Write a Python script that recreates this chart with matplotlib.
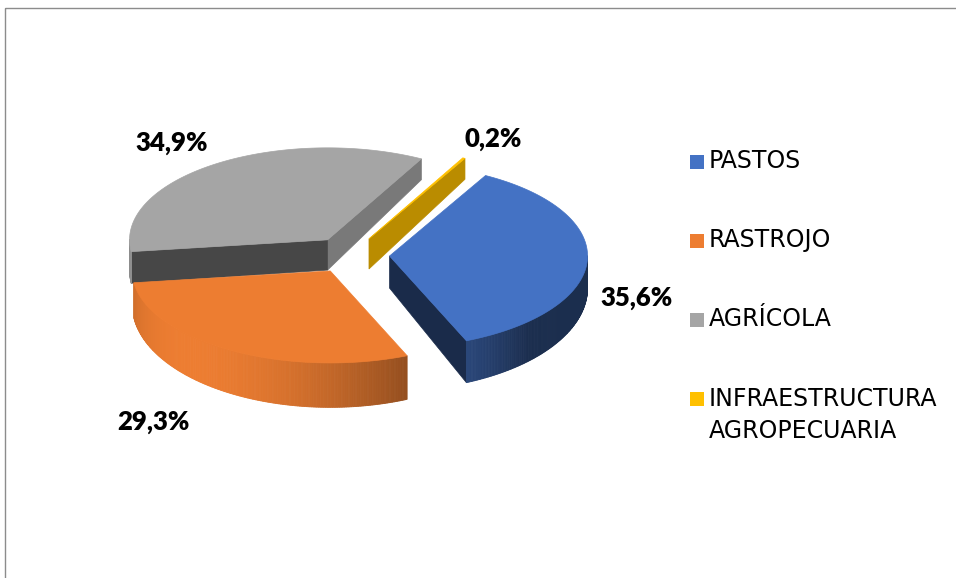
import numpy as np
import matplotlib
matplotlib.use("Agg")
import matplotlib.pyplot as plt
from matplotlib.patches import Polygon, Rectangle
from matplotlib.colors import to_rgb

# data
categories = ["PASTOS", "RASTROJO", "AGRÍCOLA", "INFRAESTRUCTURA\nAGROPECUARIA"]
values = [35.6, 29.3, 34.9, 0.2]
slice_colors = ["#4472c4", "#ed7d31", "#a5a5a5", "#ffc000"]

# where the percentage labels sit (pixels)
label_pos = [(637, 298), (153, 422), (172, 143), (493, 139)]

# pie layout, all in pixels of the 956x578 picture
W, H = 956, 578
CX, CY = 350, 255      # centre of the un-exploded pie
RX, RY = 198, 92       # half axes of the tilted top ellipse
EXPLODE = 0.2          # offset as fraction of radius
START = 61             # degrees, first slice runs clockwise from here


def depth_at(y):
    # thicker towards the viewer, a poor man's perspective
    return 32 + 0.115 * (y - CY)


def pt(c, t):
    return np.array([c[0] + RX * np.cos(t), c[1] - RY * np.sin(t)])


def shade(col, f):
    r, g, b = to_rgb(col)
    return (r * f, g * f, b * f)


fig = plt.figure(figsize=(W / 100, H / 100), dpi=100)
ax = fig.add_axes([0, 0, 1, 1])
ax.set_xlim(0, W)
ax.set_ylim(H, 0)
ax.axis("off")

# frame of the chart area
ax.add_patch(Rectangle((5, 8), W, H, fill=False, ec="#8c8c8c", lw=1.0))

# angles of each slice (clockwise from START)
fracs = np.array(values) / sum(values)
ends = START - 360 * np.cumsum(fracs)
starts = np.concatenate([[START], ends[:-1]])

slices = []
for i, (a0, a1) in enumerate(zip(starts, ends)):
    t1, t2 = np.radians(a1), np.radians(a0)   # counter-clockwise t1 -> t2
    mid = 0.5 * (t1 + t2)
    c = np.array([CX + EXPLODE * RX * np.cos(mid), CY - EXPLODE * RY * np.sin(mid)])
    slices.append((i, t1, t2, mid, c))

# back slices first
slices.sort(key=lambda s: -np.sin(s[3]))

for i, t1, t2, mid, c in slices:
    col = slice_colors[i]
    ts = np.linspace(t1, t2, max(int(np.degrees(t2 - t1)) * 2, 3))
    arc = np.array([pt(c, t) for t in ts])

    # radial walls
    for t, nx, vis in [(t1, np.sin(t1), np.cos(t1) > 0),
                       (t2, -np.sin(t2), np.cos(t2) < 0)]:
        if not vis:
            continue
        p = pt(c, t)
        quad = [c, p, p + [0, depth_at(p[1])], c + [0, depth_at(c[1])]]
        f = 0.38 + 0.4 * max(0, nx)
        ax.add_patch(Polygon(quad, closed=True, fc=shade(col, f), ec=shade(col, f), lw=0.5))

    # outer wall, only the front half of the rim shows
    for ta, tb in zip(ts[:-1], ts[1:]):
        tm = 0.5 * (ta + tb)
        if np.sin(tm) >= 0:
            continue
        pa, pb = pt(c, ta), pt(c, tb)
        quad = [pa, pb, pb + [0, depth_at(pb[1])], pa + [0, depth_at(pa[1])]]
        f = 0.4 + 0.6 * max(0, np.cos(tm - np.radians(225)))
        ax.add_patch(Polygon(quad, closed=True, fc=shade(col, f), ec=shade(col, f), lw=0.6))

    # top face
    top = np.vstack([c, arc])
    ax.add_patch(Polygon(top, closed=True, fc=col, ec=col, lw=0.5))

# percentage labels
for v, (lx, ly) in zip(values, label_pos):
    ax.text(lx, ly, f"{v:.1f}%".replace(".", ","), ha="center", va="center",
            fontsize=18.5, fontweight="heavy", family="Lato", color="black")

# legend drawn by hand so the squares sit on the first text line
LEG_X, LEG_Y, LEG_STEP, SQ = 690, 162, 79, 14
for k, (name, col) in enumerate(zip(categories, slice_colors)):
    y = LEG_Y + k * LEG_STEP
    ax.add_patch(Rectangle((LEG_X, y - SQ / 2), SQ, SQ, fc=col, ec="none"))
    ax.text(LEG_X + SQ + 5, y - 12.5, name, ha="left", va="top", fontsize=17,
            family="DejaVu Sans", color="black", linespacing=1.45)

fig.savefig("out.png", dpi=100)
